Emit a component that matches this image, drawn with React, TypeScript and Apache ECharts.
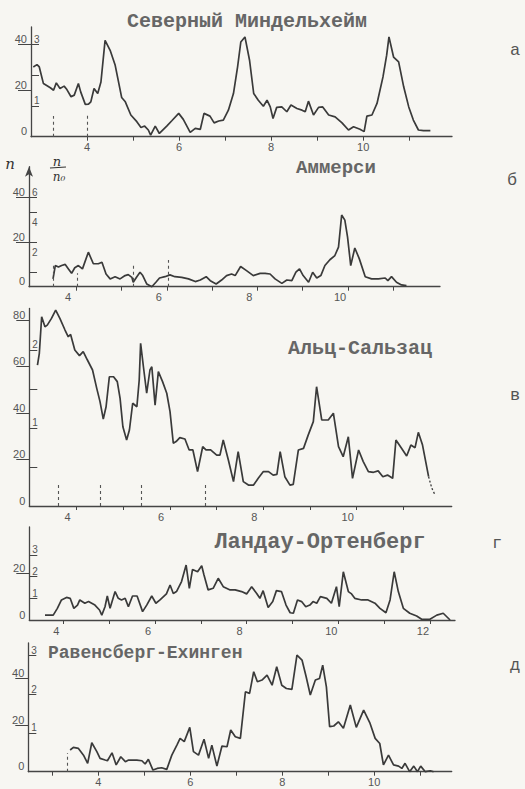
import React, { useEffect, useRef } from "react";
import * as echarts from "echarts";

// ---- data (x: horizontal axis value, n: count) ----
const titles = ["Северный Миндельхейм", "Аммерси", "Альц-Сальзац", "Ландау-Ортенберг", "Равенсберг-Ехинген"];
const panelLetters = ["а", "б", "в", "г", "д"];

const mindelX = [2.83, 2.91, 2.96, 3.05, 3.2, 3.27, 3.33, 3.41, 3.5, 3.56, 3.65, 3.72, 3.81, 3.86, 3.96, 4.03, 4.08, 4.15, 4.23, 4.3, 4.39, 4.5, 4.61, 4.75, 4.83, 4.95, 5.08, 5.17, 5.25, 5.33, 5.38, 5.48, 5.57, 5.73, 5.84, 5.99, 6.09, 6.24, 6.35, 6.46, 6.54, 6.67, 6.76, 6.86, 6.96, 7.07, 7.18, 7.27, 7.34, 7.43, 7.53, 7.62, 7.72, 7.83, 7.91, 7.98, 8.04, 8.12, 8.23, 8.34, 8.43, 8.56, 8.67, 8.74, 8.81, 8.92, 9.03, 9.12, 9.25, 9.39, 9.54, 9.68, 9.79, 9.93, 10.02, 10.08, 10.19, 10.3, 10.43, 10.51, 10.56, 10.66, 10.77, 10.88, 10.99, 11.09, 11.2, 11.31, 11.46];
const mindelN = [30.2, 31.2, 30.2, 23.0, 21.2, 20.1, 23.3, 20.9, 21.9, 20.4, 17.3, 18.0, 23.0, 19.4, 14.0, 14.1, 15.1, 20.9, 18.7, 23.7, 41.7, 37.4, 30.9, 17.0, 15.1, 9.4, 6.5, 4.0, 4.6, 2.9, 0.7, 4.6, 1.4, 4.6, 6.9, 10.1, 7.5, 1.9, 3.6, 3.2, 10.1, 8.9, 6.0, 6.8, 7.2, 11.5, 18.7, 30.2, 41.0, 43.2, 33.1, 18.7, 15.8, 13.2, 15.8, 12.9, 7.9, 12.7, 12.9, 10.8, 13.7, 12.2, 11.5, 10.8, 15.4, 9.4, 12.7, 12.9, 9.4, 8.6, 6.0, 2.9, 4.3, 3.2, 2.2, 8.9, 9.4, 14.4, 25.9, 35.3, 43.2, 34.5, 32.4, 21.6, 12.9, 7.2, 2.9, 2.6, 2.6];

const ammerX = [3.49, 3.54, 3.61, 3.68, 3.76, 3.83, 3.9, 3.97, 4.05, 4.14, 4.27, 4.38, 4.49, 4.57, 4.66, 4.75, 4.86, 4.97, 5.08, 5.15, 5.23, 5.26, 5.34, 5.41, 5.47, 5.56, 5.67, 5.76, 5.84, 5.96, 6.07, 6.18, 6.33, 6.48, 6.63, 6.74, 6.87, 6.96, 7.09, 7.21, 7.32, 7.43, 7.51, 7.63, 7.76, 7.91, 8.06, 8.17, 8.28, 8.39, 8.54, 8.65, 8.76, 8.85, 8.93, 9.01, 9.13, 9.22, 9.31, 9.4, 9.49, 9.6, 9.71, 9.79, 9.86, 9.93, 9.99, 10.06, 10.15, 10.25, 10.38, 10.52, 10.67, 10.82, 10.88, 10.96, 11.07, 11.18, 11.29];
const ammerN = [3.5, 9.5, 8.8, 9.5, 10.0, 8.0, 6.0, 8.5, 9.5, 8.0, 15.5, 10.3, 10.3, 11.0, 5.7, 3.5, 4.5, 3.5, 5.0, 5.4, 4.2, 2.0, 4.5, 6.5, 5.0, 1.2, 0, 2.0, 3.9, 4.5, 5.3, 4.5, 4.2, 3.5, 2.3, 3.0, 4.5, 2.7, 1.2, 3.0, 5.0, 5.7, 5.0, 9.1, 7.2, 5.0, 6.0, 6.0, 5.7, 3.5, 1.5, 3.0, 2.7, 6.5, 8.0, 5.0, 2.0, 6.5, 3.9, 5.0, 9.5, 12.1, 14.0, 17.8, 32.2, 29.9, 22.3, 9.5, 17.4, 12.5, 4.5, 3.5, 3.5, 3.9, 2.7, 4.5, 2.0, 0.8, 0.5];

const alzX = [3.16, 3.2, 3.25, 3.32, 3.37, 3.46, 3.55, 3.64, 3.75, 3.82, 3.87, 3.96, 4.06, 4.14, 4.23, 4.34, 4.43, 4.5, 4.57, 4.63, 4.7, 4.79, 4.87, 4.93, 4.99, 5.07, 5.13, 5.2, 5.29, 5.34, 5.37, 5.43, 5.5, 5.57, 5.61, 5.68, 5.75, 5.84, 5.93, 6.0, 6.07, 6.13, 6.21, 6.32, 6.41, 6.49, 6.59, 6.7, 6.77, 6.87, 7.0, 7.07, 7.14, 7.25, 7.36, 7.46, 7.57, 7.68, 7.79, 7.89, 8.0, 8.11, 8.21, 8.29, 8.36, 8.46, 8.57, 8.64, 8.75, 8.86, 8.96, 9.07, 9.14, 9.25, 9.39, 9.5, 9.61, 9.71, 9.82, 9.91, 10.04, 10.14, 10.25, 10.36, 10.46, 10.56, 10.66, 10.77, 10.84, 10.96, 11.07, 11.16, 11.25, 11.32, 11.41, 11.54];
const alzN = [60.6, 65.7, 81.4, 77.1, 77.8, 80.7, 84.3, 80.7, 75.7, 72.8, 73.8, 67.1, 64.7, 66.4, 62.8, 58.5, 50.6, 44.9, 37.4, 42.7, 55.6, 55.6, 53.5, 46.3, 34.1, 28.4, 32.7, 44.2, 42.7, 54.2, 70.0, 59.9, 48.5, 58.5, 59.9, 43.4, 57.8, 53.5, 48.5, 40.6, 27.0, 27.7, 29.4, 28.8, 24.1, 24.1, 14.8, 25.5, 24.1, 24.1, 21.9, 21.9, 28.4, 19.8, 10.5, 23.4, 10.5, 9.0, 9.0, 11.9, 14.8, 14.8, 13.3, 13.6, 23.4, 12.6, 9.0, 9.3, 24.1, 24.8, 30.5, 36.3, 51.3, 37.0, 37.0, 39.9, 25.5, 21.2, 29.8, 11.9, 24.1, 19.1, 14.8, 14.5, 15.1, 12.6, 13.3, 11.9, 28.4, 24.8, 21.5, 26.2, 25.1, 31.7, 26.2, 12.6];
const alzTailX = [11.54, 11.61, 11.68];
const alzTailN = [12.6, 7.6, 4.7];

const landauX = [3.6, 3.78, 3.87, 3.96, 4.07, 4.15, 4.23, 4.31, 4.36, 4.47, 4.55, 4.69, 4.79, 4.84, 4.91, 4.96, 5.02, 5.13, 5.2, 5.27, 5.35, 5.42, 5.51, 5.61, 5.73, 5.82, 5.93, 6.02, 6.11, 6.25, 6.33, 6.4, 6.47, 6.58, 6.68, 6.75, 6.82, 6.93, 7.02, 7.07, 7.16, 7.27, 7.38, 7.49, 7.64, 7.75, 7.89, 8.0, 8.11, 8.22, 8.29, 8.36, 8.47, 8.57, 8.65, 8.76, 8.86, 8.95, 9.02, 9.11, 9.2, 9.29, 9.38, 9.45, 9.53, 9.61, 9.75, 9.85, 9.96, 10.02, 10.11, 10.22, 10.29, 10.36, 10.51, 10.65, 10.8, 10.91, 11.04, 11.13, 11.22, 11.31, 11.42, 11.56, 11.71, 11.82, 12.0, 12.15, 12.29, 12.44];
const landauN = [2.1, 2.1, 5.0, 8.6, 9.7, 9.3, 5.0, 6.4, 8.6, 7.2, 7.9, 6.4, 4.3, 2.1, 5.7, 10.3, 5.0, 12.2, 9.3, 8.6, 9.3, 5.7, 10.3, 10.3, 3.6, 6.4, 10.3, 7.2, 8.6, 11.2, 15.0, 11.4, 12.2, 16.5, 23.6, 13.6, 21.7, 20.7, 23.3, 19.3, 12.9, 13.6, 17.9, 14.3, 12.9, 12.9, 12.2, 11.2, 14.3, 11.4, 9.3, 12.6, 5.4, 7.9, 12.6, 12.2, 6.4, 3.1, 2.9, 8.6, 7.9, 5.7, 6.4, 7.9, 7.2, 10.0, 9.3, 7.2, 14.3, 5.7, 20.7, 12.2, 11.2, 9.3, 8.6, 8.6, 7.2, 5.0, 3.1, 8.6, 20.7, 12.2, 5.0, 2.9, 1.7, 0.3, 0.3, 2.1, 2.9, 0];

const ravensX = [3.39, 3.46, 3.57, 3.68, 3.77, 3.86, 3.97, 4.04, 4.15, 4.2, 4.3, 4.39, 4.49, 4.59, 4.66, 4.84, 4.95, 5.02, 5.09, 5.19, 5.28, 5.38, 5.49, 5.6, 5.71, 5.78, 5.87, 5.99, 6.07, 6.18, 6.3, 6.4, 6.47, 6.58, 6.69, 6.8, 6.88, 6.98, 7.09, 7.2, 7.29, 7.38, 7.46, 7.56, 7.67, 7.78, 7.88, 7.99, 8.09, 8.21, 8.32, 8.43, 8.52, 8.61, 8.72, 8.81, 8.88, 8.96, 9.03, 9.12, 9.22, 9.33, 9.48, 9.61, 9.77, 9.91, 10.02, 10.12, 10.2, 10.31, 10.42, 10.53, 10.6, 10.67, 10.77, 10.86, 10.94, 11.01, 11.11, 11.22, 11.29];
const ravensN = [9.3, 10.4, 10.0, 7.1, 3.6, 12.4, 8.6, 5.7, 5.0, 4.7, 8.1, 2.9, 6.4, 4.3, 5.0, 5.0, 4.7, 3.3, 5.3, 0.7, 1.4, 1.7, 1.0, 7.1, 11.4, 14.3, 12.9, 19.0, 8.6, 7.1, 13.9, 5.7, 11.4, 2.4, 11.0, 10.7, 17.9, 15.0, 14.3, 34.3, 33.6, 42.9, 38.6, 39.3, 41.4, 37.1, 45.0, 37.1, 35.7, 35.3, 50.0, 47.9, 40.7, 32.9, 39.3, 40.0, 45.7, 36.4, 19.3, 19.6, 21.4, 18.6, 28.6, 19.0, 26.4, 20.7, 14.3, 12.1, 2.9, 7.1, 2.9, 2.4, 1.4, 3.6, 0, 2.4, 0, 2.4, 0, 0.4, 0];

// dashed markers: [x, height in n]
const mindelMarks = [[3.27, 9], [4.0, 9.5]];
const ammerMarks = [[3.5, 10], [4.03, 6], [5.25, 9.5], [6.04, 12]];
const alzMarks = [[3.61, 9.5], [4.51, 9.5], [5.39, 9.5], [6.75, 9.5]];
const landauMarks: number[][] = [];
const ravensMarks = [[3.32, 8]];

// axis ticks / labels
const xTicksA = [4, 5, 6, 7, 8, 9, 10, 11];
const xLabelsA = [4, 6, 8, 10];
const xTicksG = [4, 5, 6, 7, 8, 9, 10, 11, 12];
const xLabelsG = [4, 6, 8, 10, 12];
const xTicksD = [3, 4, 5, 6, 7, 8, 9, 10, 11];

const nLabelsA = [0, 20, 40];
const nTicksA = [20, 40];
const nLabelsV = [0, 20, 40, 60, 80];
const nTicksV = [20, 40, 60, 80];
const nLabelsG = [0, 20];
const nTicksG = [20];

const rTicksA = [1, 2, 3];
const rLabelsA = [1, 3];
const rTicksB = [1, 3, 5, 6];
const rLabelsB = [2, 4, 6];
const rTicksV = [0.5, 1, 1.5, 2];
const rLabelsV = [1, 2];
const rTicksG = [1, 2, 3];
const rLabelsG = [1, 2, 3];

const zip = (xs: number[], ys: number[]) =>
  xs.slice(0, Math.min(xs.length, ys.length)).map((x, i) => [x, ys[i]]);

const LINE = "#3a3a3a";
const AXIS = "#454545";
const TEXT = "#666666";

type Panel = {
  left: number; rightPx: number; top: number; base: number;
  xMin: number; xMax: number; yMax: number; n0: number;
  xTicks: number[]; xLabels: number[]; shift: number;
  nTicks: number[]; nLabels: number[]; rTicks: number[]; rLabels: number[];
  arrow?: boolean; data: number[][]; marks: number[][];
};

const panels: Panel[] = [
  { left: 31, rightPx: 452, top: 27, base: 136.7, xMin: 2.78, xMax: 11.93, yMax: 47.5, n0: 13.33,
    xTicks: xTicksA, xLabels: xLabelsA, shift: 0, nTicks: nTicksA, nLabels: nLabelsA,
    rTicks: rTicksA, rLabels: rLabelsA, data: zip(mindelX, mindelN), marks: mindelMarks },
  { left: 29, rightPx: 440, top: 166.7, base: 286.7, xMin: 2.96, xMax: 12.03, yMax: 53.9, n0: 6.667,
    xTicks: xTicksA, xLabels: xLabelsA, shift: 8, nTicks: nTicksA, nLabels: nLabelsA,
    rTicks: rTicksB, rLabels: rLabelsB, arrow: true, data: zip(ammerX, ammerN), marks: ammerMarks },
  { left: 29.3, rightPx: 451.7, top: 308.4, base: 506, xMin: 2.985, xMax: 12.035, yMax: 85, n0: 33.6,
    xTicks: xTicksA, xLabels: xLabelsA, shift: 9, nTicks: nTicksV, nLabels: nLabelsV,
    rTicks: rTicksV, rLabels: rLabelsV, data: zip(alzX, alzN), marks: alzMarks },
  { left: 29.3, rightPx: 455, top: 527, base: 620, xMin: 3.258, xMax: 12.547, yMax: 39.9, n0: 9.3,
    xTicks: xTicksG, xLabels: xLabelsG, shift: 7, nTicks: nTicksG, nLabels: nLabelsG,
    rTicks: rTicksG, rLabels: rLabelsG, data: zip(landauX, landauN), marks: landauMarks },
  { left: 28.3, rightPx: 451.7, top: 643, base: 771.7, xMin: 2.48, xMax: 11.684, yMax: 55.2, n0: 16.6,
    xTicks: xTicksD, xLabels: xLabelsA, shift: 0, nTicks: nTicksA, nLabels: nLabelsA,
    rTicks: rTicksG, rLabels: rLabelsG, data: zip(ravensX, ravensN), marks: ravensMarks },
];

const titlePos = [
  { x: 247, y: 21, size: 20, align: "center" },
  { x: 336, y: 168, size: 19, align: "center" },
  { x: 360, y: 348, size: 20, align: "center" },
  { x: 320, y: 542, size: 22, align: "center" },
  { x: 48, y: 653, size: 18, align: "left" },
];
const letterPos = [[515, 50], [512, 180], [515, 395], [497, 543], [515, 665]];

export default function App() {
  const ref = useRef<HTMLDivElement>(null);
  useEffect(() => {
    if (!ref.current) return;
    const chart = echarts.init(ref.current, null, { renderer: "svg" });
    const grid: any[] = [];
    const xAxis: any[] = [];
    const yAxis: any[] = [];
    const series: any[] = [];
    panels.forEach((p, i) => {
      grid.push({ left: p.left, top: p.top, width: p.rightPx - p.left, height: p.base - p.top,
        containLabel: false, outerBoundsMode: "none" });
      xAxis.push({
        type: "value", gridIndex: i, min: p.xMin, max: p.xMax,
        axisLine: { show: true, onZero: false, lineStyle: { color: AXIS, width: 1.3 } },
        axisTick: { show: true, customValues: p.xTicks, length: 4, lineStyle: { color: AXIS, width: 1 } },
        axisLabel: { show: true, customValues: p.xLabels, margin: 5, fontSize: 11, color: "#555",
          fontFamily: "Liberation Sans", padding: [0, p.shift * 2, 0, 0],
          formatter: (v: number) => String(Math.round(v)) },
        splitLine: { show: false },
      });
      yAxis.push({
        type: "value", gridIndex: i, min: 0, max: p.yMax, position: "left", offset: 0,
        axisLine: { show: true, lineStyle: { color: AXIS, width: 1.3 },
          symbol: p.arrow ? ["none", "arrow"] : ["none", "none"], symbolSize: [6, 10] },
        axisTick: { show: true, customValues: p.nTicks, length: 13, lineStyle: { color: AXIS, width: 1 } },
        axisLabel: { show: true, customValues: p.nLabels, margin: 4, fontSize: 11, color: "#555",
          fontFamily: "Liberation Sans", verticalAlign: "bottom",
          formatter: (v: number) => String(Math.round(v)) },
        splitLine: { show: false },
      });
      yAxis.push({
        type: "value", gridIndex: i, min: 0, max: p.yMax / p.n0, position: "left", offset: 0,
        axisLine: { show: false },
        axisTick: { show: true, inside: true, customValues: p.rTicks, length: 8, lineStyle: { color: AXIS, width: 1 } },
        axisLabel: { show: true, inside: true, customValues: p.rLabels, margin: 3, fontSize: 10, color: "#555",
          fontFamily: "Liberation Sans", verticalAlign: "bottom",
          formatter: (v: number) => String(Math.round(v)) },
        splitLine: { show: false },
      });
      series.push({
        type: "line", xAxisIndex: i, yAxisIndex: i * 2, data: p.data,
        showSymbol: false, symbol: "none", smooth: false, clip: false,
        lineStyle: { color: LINE, width: 1.7 },
        markLine: p.marks.length ? {
          silent: true, symbol: ["none", "none"], label: { show: false },
          lineStyle: { type: [3, 3], width: 1.1, color: "#555" },
          emphasis: { disabled: true },
          data: p.marks.map(([x, h]) => [{ coord: [x, 0] }, { coord: [x, h] }]),
        } : undefined,
      });
    });
    series.push({
      type: "line", xAxisIndex: 2, yAxisIndex: 4, data: zip(alzTailX, alzTailN),
      showSymbol: false, symbol: "none", clip: false,
      lineStyle: { color: LINE, width: 1.3, type: [2, 2] },
    });

    const graphic: any[] = [];
    titles.forEach((t, i) => {
      const tp = titlePos[i];
      graphic.push({ type: "text", x: tp.x, y: tp.y, silent: true,
        style: { text: t, font: `bold ${tp.size}px "Liberation Mono"`, fill: TEXT,
          textAlign: tp.align, textVerticalAlign: "middle", align: tp.align, verticalAlign: "middle" } });
    });
    panelLetters.forEach((t, i) => {
      graphic.push({ type: "text", x: letterPos[i][0], y: letterPos[i][1], silent: true,
        style: { text: t, font: `17px "Liberation Mono"`, fill: "#555",
          textAlign: "center", textVerticalAlign: "middle", align: "center", verticalAlign: "middle" } });
    });
    graphic.push({ type: "text", x: 10, y: 164, silent: true,
      style: { text: "n", font: 'italic 15px "DejaVu Serif"', fill: "#333",
        textAlign: "center", textVerticalAlign: "middle", align: "center", verticalAlign: "middle" } });
    graphic.push({ type: "text", x: 57, y: 161, silent: true,
      style: { text: "n", font: 'italic 13px "DejaVu Serif"', fill: "#333",
        textAlign: "center", textVerticalAlign: "middle", align: "center", verticalAlign: "middle" } });
    graphic.push({ type: "line", silent: true, shape: { x1: 50, y1: 168, x2: 66, y2: 167 },
      style: { stroke: "#333", lineWidth: 1.2 } });
    graphic.push({ type: "text", x: 59, y: 177, silent: true,
      style: { text: "n₀", font: 'italic 12px "DejaVu Serif"', fill: "#333",
        textAlign: "center", textVerticalAlign: "middle", align: "center", verticalAlign: "middle" } });

    chart.setOption({
      animation: false,
      backgroundColor: "#f7f6f2",
      grid, xAxis, yAxis, series, graphic,
    });
    return () => chart.dispose();
  }, []);
  return <div ref={ref} style={{ position: "absolute", left: 0, top: 0, width: 525, height: 789 }} />;
}
